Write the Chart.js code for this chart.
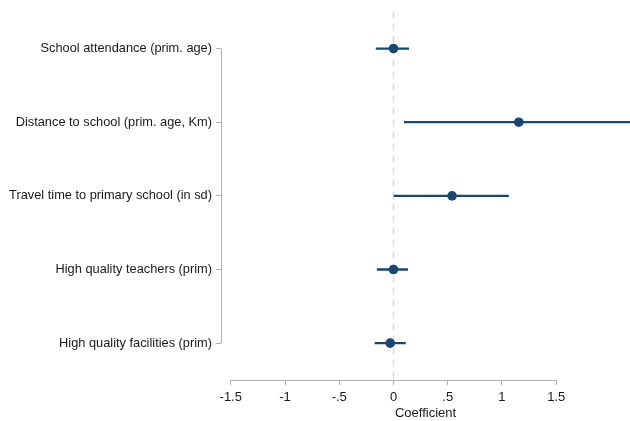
<!DOCTYPE html>
<html>
<head>
<meta charset="utf-8">
<script src="https://cdn.jsdelivr.net/npm/chart.js@4/dist/chart.umd.min.js"></script>
<style>
html,body{margin:0;padding:0;background:#fff;}
#wrap{width:630px;height:421px;position:relative;}
</style>
</head>
<body>
<div id="wrap"><canvas id="c" width="630" height="421"></canvas></div>
<script>
const categories = [
  "School attendance (prim. age)",
  "Distance to school (prim. age, Km)",
  "Travel time to primary school (in sd)",
  "High quality teachers (prim)",
  "High quality facilities (prim)"
];
const estimates = [0.00, 1.155, 0.54, 0.00, -0.03];
const ciLow = [-0.16, 0.10, 0.00, -0.15, -0.17];
const ciHigh = [0.14, 2.30, 1.06, 0.13, 0.11];
const xTickValues = [-1.5, -1, -0.5, 0, 0.5, 1, 1.5];
const xTickLabels = ["-1.5", "-1", "-.5", "0", ".5", "1", "1.5"];
const xTitle = "Coefficient";

const navy = "#1a476f";
const axisGray = "#b0b0b0";
const textColor = "#1a1a1a";
const fontFamily = "Liberation Sans, Arial, sans-serif";

const refAndAxes = {
  id: "refAndAxes",
  beforeDatasetsDraw(chart) {
    const {ctx, chartArea, scales} = chart;
    const x0 = Math.round(scales.x.getPixelForValue(0)) + 0.5;
    ctx.save();
    ctx.strokeStyle = "#dadada";
    ctx.lineWidth = 1.5;
    ctx.setLineDash([7, 5]);
    ctx.beginPath();
    ctx.moveTo(x0, chartArea.top);
    ctx.lineTo(x0, chartArea.bottom);
    ctx.stroke();
    ctx.restore();
  },
  afterDraw(chart) {
    const {ctx, chartArea, scales} = chart;
    ctx.save();
    ctx.strokeStyle = axisGray;
    ctx.lineWidth = 1;
    const xa = scales.x.getPixelForValue(xTickValues[0]);
    const xb = scales.x.getPixelForValue(xTickValues[xTickValues.length - 1]);
    const yb = Math.round(chartArea.bottom) + 0.5;
    ctx.beginPath();
    ctx.moveTo(xa, yb);
    ctx.lineTo(xb, yb);
    ctx.stroke();
    const ya = scales.y.getPixelForValue(0);
    const yz = scales.y.getPixelForValue(categories.length - 1);
    const xl = Math.round(chartArea.left) + 0.5;
    ctx.beginPath();
    ctx.moveTo(xl, ya);
    ctx.lineTo(xl, yz);
    ctx.stroke();
    ctx.restore();
  }
};

new Chart(document.getElementById("c"), {
  data: {
    labels: categories,
    datasets: [
      {
        type: "scatter",
        data: estimates.map((v, i) => ({x: v, y: categories[i]})),
        backgroundColor: navy,
        borderColor: navy,
        pointRadius: 4.8,
        pointBorderWidth: 0,
        order: 0
      },
      {
        type: "bar",
        indexAxis: "y",
        data: ciLow.map((l, i) => [l, ciHigh[i]]),
        backgroundColor: navy,
        borderWidth: 0,
        barThickness: 1.6,
        order: 1
      }
    ]
  },
  options: {
    responsive: false,
    animation: false,
    layout: {autoPadding: false, padding: {top: 9, right: 0, left: 0, bottom: 0}},
    plugins: {legend: {display: false}, tooltip: {enabled: false}},
    scales: {
      x: {
        type: "linear",
        position: "bottom",
        min: -1.59,
        max: 2.18,
        afterBuildTicks(scale) {
          scale.ticks = xTickValues.map(v => ({value: v}));
        },
        afterFit(scale) { scale.height = 41; },
        grid: {drawOnChartArea: false, drawTicks: true, tickLength: 5, color: axisGray},
        border: {display: false},
        ticks: {
          color: textColor,
          font: {family: fontFamily, size: 13},
          padding: 5,
          maxRotation: 0,
          autoSkip: false,
          callback(value) {
            const idx = xTickValues.indexOf(value);
            return idx >= 0 ? xTickLabels[idx] : "";
          }
        },
        title: {
          display: true,
          text: xTitle,
          color: textColor,
          font: {family: fontFamily, size: 13},
          padding: {top: 0, bottom: 0}
        }
      },
      y: {
        type: "category",
        position: "left",
        offset: true,
        afterFit(scale) { scale.width = 221; },
        grid: {drawOnChartArea: false, drawTicks: true, tickLength: 5, color: axisGray, offset: false},
        border: {display: false},
        ticks: {
          color: textColor,
          font: {family: fontFamily, size: 12.8},
          padding: 4,
          autoSkip: false
        }
      }
    }
  },
  plugins: [refAndAxes]
});
</script>
</body>
</html>
